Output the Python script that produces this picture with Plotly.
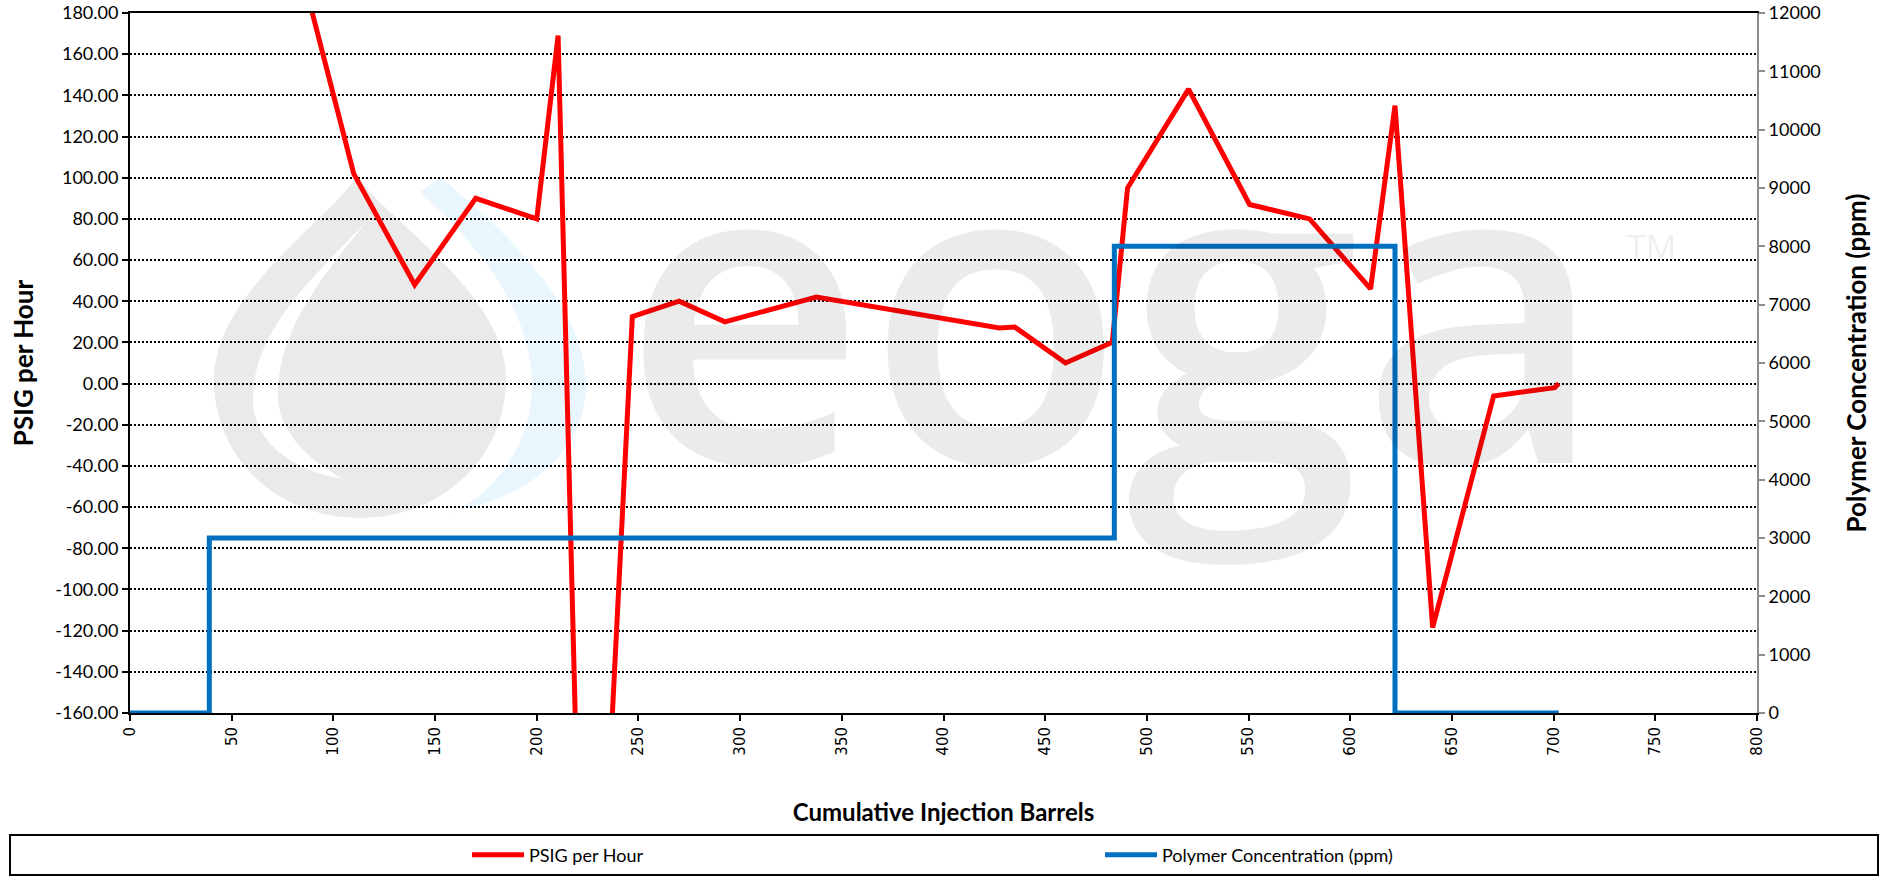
import plotly.graph_objects as go

# ---------------- data ----------------
x_psig = [80, 110, 140, 170, 200, 210.5, 225, 247, 270, 292.5, 337.5, 427.5, 435,
          460, 483, 490.5, 520.5, 550.5, 580, 610, 622, 640.5, 670.5, 700.5, 702.5]
y_psig = [217, 102, 48, 90, 80, 169, -400, 32.5, 40, 30, 42, 27, 27.5,
          10, 20, 95, 143, 87, 80, 46, 135, -118.5, -6, -2, 0]

x_poly = [0, 39, 484, 622, 702.5]
y_poly = [0, 3000, 8000, 0, 0]

x_ticks = list(range(0, 801, 50))
y_ticks = list(range(-160, 181, 20))
y2_ticks = list(range(0, 12001, 1000))

# ---------------- layout geometry (page pixels) ----------------
W, H = 1886, 882
L, R, T, B = 130, 1757, 13, 713


def px(x):
    return (x - L) / (R - L)


def py(y):
    return (B - y) / (B - T)


def path(cmds):
    out = []
    for c in cmds:
        op = c[0]
        pts = c[1:]
        s = op
        for i in range(0, len(pts), 2):
            s += " %.5f,%.5f" % (px(pts[i]), py(pts[i + 1]))
        out.append(s)
    return " ".join(out) + " Z"


drop = path([
    ("M", 357, 176),
    ("C", 335, 215, 214, 292, 214, 380),
    ("C", 214, 460, 280, 518, 360, 518),
    ("C", 440, 518, 506, 460, 506, 378),
    ("C", 506, 292, 380, 215, 357, 176),
])
highlight = path([
    ("M", 366, 222),
    ("C", 300, 290, 253, 335, 253, 400),
    ("C", 253, 440, 290, 470, 343, 479),
    ("C", 305, 458, 278, 430, 278, 395),
    ("C", 278, 330, 320, 280, 366, 222),
])
arc = path([
    ("M", 420, 192),
    ("L", 440, 177),
    ("C", 530, 250, 586, 320, 586, 385),
    ("C", 586, 450, 530, 495, 466, 508),
    ("L", 450, 514),
    ("C", 500, 490, 532, 440, 532, 385),
    ("C", 532, 320, 490, 255, 420, 192),
])

fig = go.Figure()

fig.add_trace(go.Scatter(
    x=x_psig, y=y_psig, mode="lines", name="PSIG per Hour",
    line=dict(color="#FF0000", width=5), yaxis="y"))

fig.add_trace(go.Scatter(
    x=x_poly, y=y_poly, mode="lines", name="Polymer Concentration (ppm)",
    line=dict(color="#0070C0", width=5, shape="hv"), yaxis="y2"))

tickfont = dict(family="Lato", size=18, color="black")

fig.update_layout(
    width=W, height=H,
    margin=dict(l=L, r=W - R, t=T, b=H - B, autoexpand=False),
    paper_bgcolor="white", plot_bgcolor="white",
    showlegend=True,
    xaxis=dict(
        range=[0, 800], tickvals=x_ticks, ticktext=[str(v) for v in x_ticks],
        tickangle=-90, tickfont=dict(family="DejaVu Sans", size=15, color="black"),
        showgrid=False, zeroline=False,
        showline=True, linecolor="black", linewidth=2, mirror=True,
        ticks="outside", ticklen=6, tickcolor="black", tickwidth=1.5,
        title=dict(text="Cumulative Injection Barrels",
                   font=dict(family="Lato", size=24, color="black", weight="bold"),
                   standoff=50),
    ),
    yaxis=dict(
        range=[-160, 180], tickvals=y_ticks,
        ticktext=["%.2f" % v for v in y_ticks],
        tickfont=tickfont,
        showgrid=True, gridcolor="black", gridwidth=1.5, griddash="2px,2px",
        zeroline=False,
        showline=True, linecolor="black", linewidth=2,
        ticks="outside", ticklen=6, tickcolor="black", tickwidth=1.5,
        title=dict(text="PSIG per Hour",
                   font=dict(family="Lato", size=26, color="black", weight="bold"),
                   standoff=14),
    ),
    yaxis2=dict(
        range=[0, 12000], tickvals=y2_ticks, ticktext=[str(v) for v in y2_ticks],
        tickfont=tickfont, overlaying="y", side="right",
        showgrid=False, zeroline=False,
        showline=True, linecolor="#8C8C8C", linewidth=2,
        ticks="outside", ticklen=6, tickcolor="#8C8C8C", tickwidth=1.5,
        title=dict(text="Polymer Concentration (ppm)",
                   font=dict(family="Lato", size=26, color="black", weight="bold"),
                   standoff=28),
    ),
    legend=dict(
        orientation="h", x=px(467), xanchor="left", y=py(855), yanchor="middle",
        entrywidth=566, entrywidthmode="pixels", itemwidth=52,
        font=dict(family="Lato", size=18, color="black"),
        bgcolor="rgba(0,0,0,0)", borderwidth=0,
    ),
    shapes=[
        dict(type="path", xref="paper", yref="paper", path=drop,
             fillcolor="#EAEAEA", line=dict(width=0), layer="below"),
        dict(type="path", xref="paper", yref="paper", path=highlight,
             fillcolor="white", line=dict(width=0), layer="below"),
        dict(type="path", xref="paper", yref="paper", path=arc,
             fillcolor="#E9F6FD", line=dict(width=0), layer="below"),
        dict(type="rect", xref="paper", yref="paper",
             x0=px(10), x1=px(1878), y0=py(875), y1=py(835),
             line=dict(color="black", width=2), fillcolor="rgba(0,0,0,0)"),
    ],
    annotations=[
        dict(text="eoga", xref="paper", yref="paper", x=px(1114), y=py(298),
             xanchor="center", yanchor="middle", showarrow=False,
             font=dict(family="Open Sans", size=424, weight=600,
                       color="rgba(0,0,0,0.08)")),
        dict(text="TM", xref="paper", yref="paper", x=px(1651), y=py(247),
             xanchor="center", yanchor="middle", showarrow=False,
             font=dict(family="Open Sans", size=34, color="rgba(0,0,0,0.08)")),
    ],
)

fig.write_html(
    "out.html",
    config={"displayModeBar": False},
    post_script="document.body.style.margin='0';document.body.style.overflow='hidden';",
)
